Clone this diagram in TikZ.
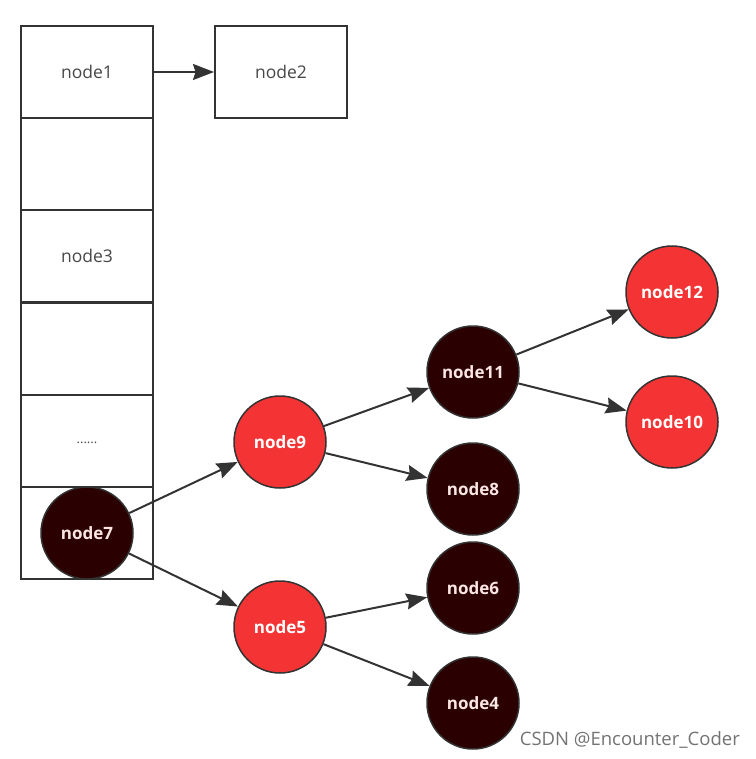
\documentclass[tikz,border=0pt]{standalone}
\usepackage{fontspec}
\setmainfont{Open Sans}
\usetikzlibrary{arrows.meta}
\definecolor{lin}{HTML}{333333}
\definecolor{redf}{HTML}{F43434}
\definecolor{darkf}{HTML}{2B0000}
\definecolor{txtl}{HTML}{FBE6E6}
\tikzset{
  cell/.style={draw=lin, line width=2pt, minimum width=132pt, minimum height=92pt, inner sep=0pt, text=lin!90, font=\fontsize{17.5}{20}\selectfont},
  rnode/.style={circle, draw=lin, line width=1.5pt, fill=redf, minimum size=92pt, inner sep=0pt, text=white, font=\bfseries\fontsize{17}{20}\selectfont},
  dnode/.style={circle, draw=lin, line width=1.5pt, fill=darkf, minimum size=92pt, inner sep=0pt, text=txtl, font=\bfseries\fontsize{17}{20}\selectfont},
  arr/.style={draw=lin, line width=2pt, -{Stealth[length=21pt,width=16pt,inset=2.5pt]}},
}
\begin{document}
\begin{tikzpicture}[x=1pt,y=-1pt]
\useasboundingbox (0,0) rectangle (755,759);
\node[cell] (c1) at (87,72) {node1};
\node[cell] (c2) at (87,164) {};
\node[cell] (c3) at (87,256) {node3};
\node[cell] (c4) at (87,348.5) {};
\node[cell] (c5) at (87,441) {\raisebox{-6pt}{\fontsize{13}{14}\selectfont ......}};
\node[cell] (c6) at (87,533) {};
\node[cell] (n2) at (281,72) {node2};
\draw[arr] (c1.east) -- (n2.west);
\node[dnode] (n7) at (87,533) {node7};
\node[rnode] (n9) at (280,442) {node9};
\node[rnode] (n5) at (280,627) {node5};
\node[dnode] (n11) at (473,372) {node11};
\node[dnode] (n8) at (473,489) {node8};
\node[dnode] (n6) at (473,588) {node6};
\node[dnode] (n4) at (473,703) {node4};
\node[rnode] (n12) at (672,292) {node12};
\node[rnode] (n10) at (672,422) {node10};
\draw[arr] (n7) -- (n9);
\draw[arr] (n7) -- (n5);
\draw[arr] (n9) -- (n11);
\draw[arr] (n9) -- (n8);
\draw[arr] (n5) -- (n6);
\draw[arr] (n5) -- (n4);
\draw[arr] (n11) -- (n12);
\draw[arr] (n11) -- (n10);
\node[text=black!55, font=\fontsize{18.5}{20}\selectfont, anchor=east, inner sep=0pt] (wm) at (740,740) {CSDN @Encounter\_Coder};
\end{tikzpicture}
\end{document}
